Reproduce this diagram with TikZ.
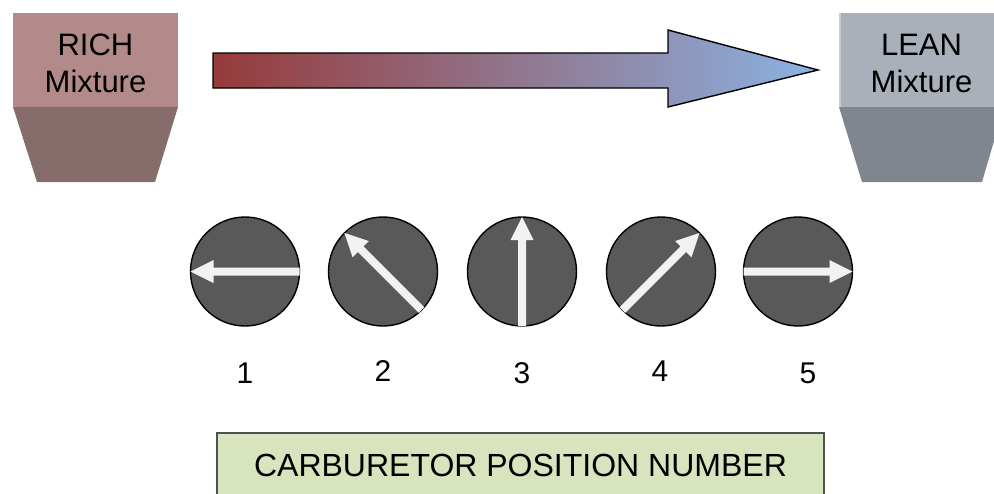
\documentclass[tikz,border=0pt]{standalone}
\usepackage{fontspec}
\setmainfont{Liberation Sans}
\definecolor{richtop}{RGB}{178,138,138}
\definecolor{richbot}{RGB}{135,108,108}
\definecolor{leantop}{RGB}{170,176,186}
\definecolor{leanbot}{RGB}{128,134,142}
\definecolor{leanedge}{RGB}{200,205,212}
\definecolor{dialgray}{RGB}{89,89,89}
\definecolor{needle}{RGB}{242,242,242}
\definecolor{flowred}{RGB}{150,58,58}
\definecolor{flowblue}{RGB}{139,178,226}
\definecolor{notefill}{RGB}{215,228,189}
\definecolor{noteedge}{RGB}{80,80,80}
\begin{document}
\begin{tikzpicture}[x=1pt,y=-1pt,
  dial/.style={circle, draw=black, line width=1.4pt, fill=dialgray,
               minimum size=109pt, inner sep=0pt},
  bigtext/.style={font=\fontsize{31}{37}\selectfont, inner sep=0pt, align=center},
  numtext/.style={font=\fontsize{30}{36}\selectfont, inner sep=0pt, anchor=base},
  needlestyle/.style={fill=needle, draw=none}]
\useasboundingbox (0,0) rectangle (994,493);

% mixture boxes
\fill[richtop] (13,13) rectangle (178,107);
\fill[richbot] (13,107) -- (178,107) -- (155,182) -- (37,182) -- cycle;
\node[bigtext] (rich) at (95.5,63) {RICH\\Mixture};

\fill[leantop] (839,13) rectangle (1004,107);
\fill[leanedge] (839,13) rectangle (841,107);
\fill[leanbot] (839,107) -- (1004,107) -- (982,182) -- (862,182) -- cycle;
\node[bigtext] (lean) at (921.5,63) {LEAN\\Mixture};

% direction arrow from rich to lean
\draw[line width=1.4pt, left color=flowred, right color=flowblue, line join=miter]
  (213,53) -- (668,53) -- (668,30) -- (818,70) -- (668,107) -- (668,88) -- (213,88) -- cycle;

% dials with needles
\foreach \i/\cx/\ang in {1/245/180, 2/383/135, 3/522/90, 4/661/45, 5/798/0} {
  \node[dial] (c\i) at (\cx,271.5) {};
  \begin{scope}[shift={(c\i.center)}, rotate=\ang]
    \fill[needlestyle] (-54.5,-4) -- (31.5,-4) -- (31.5,-11.5) -- (54.5,0)
      -- (31.5,11.5) -- (31.5,4) -- (-54.5,4) -- cycle;
  \end{scope}
}

% position numbers
\node[numtext] (n1) at (245,383) {1};
\node[numtext] (n2) at (383,381) {2};
\node[numtext] (n3) at (522,383) {3};
\node[numtext] (n4) at (660,381) {4};
\node[numtext] (n5) at (808,383) {5};

% caption box
\draw[noteedge, line width=1.4pt, fill=notefill] (217,433) rectangle (824,497);
\node[numtext, font=\fontsize{32}{36}\selectfont] (caption) at (520.5,476) {CARBURETOR POSITION NUMBER};
\end{tikzpicture}
\end{document}
